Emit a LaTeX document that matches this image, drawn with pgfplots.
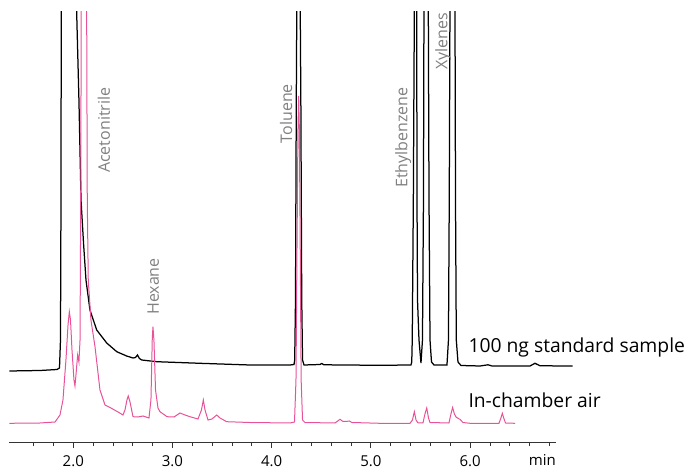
\documentclass[border=0pt]{standalone}
\usepackage{fontspec}
\setmainfont{Open Sans}
\usepackage{pgfplots}
\pgfplotsset{compat=1.18}
\definecolor{pinkline}{RGB}{232,82,152}
\definecolor{labelgray}{RGB}{128,128,128}
\begin{document}
\begin{tikzpicture}
\useasboundingbox (0,0) rectangle (689bp,469bp);
\begin{axis}[
  at={(9.3bp,26.3bp)}, anchor=south west,
  scale only axis, width=569.9bp, height=431bp,
  xmin=1.355, xmax=7.1, ymin=0, ymax=431,
  axis x line*=bottom, axis y line=none,
  x axis line style={shorten >=23.5bp, line width=0.8bp, draw=black!80},
  clip mode=individual,
  tick align=outside,
  major tick length=5.5bp, minor tick length=3.5bp,
  every tick/.style={line width=0.8bp, draw=black!80},
  xtick={2,3,4,5,6},
  xticklabels={2.0,3.0,4.0,5.0,6.0},
  minor xtick={1.6,1.8,2.2,2.4,2.6,2.8,3.2,3.4,3.6,3.8,4.2,4.4,4.6,4.8,5.2,5.4,5.6,5.8,6.2,6.4,6.6,6.8},
  xticklabel style={font=\fontsize{15bp}{18bp}\selectfont, anchor=base, inner sep=0pt, yshift=-17.8bp},
  ytick=\empty,
]
% 100 ng standard sample
\addplot[black, line width=1.25bp] coordinates {
(1.355,71.7) (1.664,72.2) (1.836,73.2) (1.861,74.7) (1.871,102.7) (1.876,242.7) (1.881,600)
(2.029,600) (2.034,430.7) (2.057,342.7) (2.078,242.7) (2.103,200) (2.128,162.7) (2.168,132.7)
(2.236,112.7) (2.337,99.7) (2.438,91) (2.538,86.7) (2.602,84.7) (2.627,85.2) (2.647,87.7)
(2.667,84.2) (2.690,82.7) (2.841,81) (3.277,79.4) (3.781,77.7) (4.185,77.7) (4.225,78.2)
(4.232,82.7) (4.240,142.7) (4.248,342.7) (4.253,430.7) (4.268,600) (4.288,430.7) (4.294,342.7)
(4.303,142.7) (4.311,82.7) (4.326,77.7) (4.487,78.2) (4.504,79.2) (4.527,77.9) (4.739,77.7)
(5.092,77.4) (5.394,77.7) (5.404,77.7) (5.412,80.7) (5.417,102.7) (5.428,242.7) (5.438,430.7)
(5.450,600) (5.462,430.7) (5.465,242.7) (5.470,142.7) (5.485,102.7) (5.505,79.7) (5.520,102.7)
(5.530,242.7) (5.535,430.7) (5.556,600) (5.579,430.7) (5.586,242.7) (5.596,102.7) (5.611,80.7)
(5.636,77.7) (5.767,77.7) (5.782,102.7) (5.790,242.7) (5.797,430.7) (5.823,600) (5.848,430.7)
(5.853,242.7) (5.861,102.7) (5.878,80.7) (5.908,77.2) (6.100,76.7) (6.181,77.9) (6.221,76.7)
(6.604,76.7) (6.654,79.4) (6.705,76.9) (7.034,76.7)
};
% In-chamber air
\addplot[pinkline, line width=1bp] coordinates {
(1.355,19.4) (1.664,19.7) (1.816,20.7) (1.866,27.7) (1.896,42.7) (1.926,82.7) (1.947,117.7)
(1.960,131) (1.972,122.7) (1.987,92.7) (2.007,62.7) (2.017,56.7) (2.027,67.7) (2.044,87.7)
(2.057,80.7) (2.068,102.7) (2.075,242.7) (2.080,430.7) (2.088,600) (2.133,600) (2.135,430.7)
(2.141,242.7) (2.151,162.7) (2.178,122.7) (2.219,96) (2.269,52.7) (2.320,37.7) (2.370,35.2)
(2.451,30.7) (2.501,27.7) (2.521,32.7) (2.541,42.7) (2.554,46.7) (2.572,40.7) (2.602,26)
(2.652,25.7) (2.703,26.7) (2.763,24.7) (2.783,42.7) (2.796,102.7) (2.803,116) (2.813,102.7)
(2.829,52.7) (2.854,34.7) (2.874,31) (2.945,26) (3.015,25.7) (3.076,29.7) (3.126,27.7)
(3.176,26) (3.257,23.7) (3.292,32.7) (3.311,42.7) (3.328,32.7) (3.358,22.7) (3.398,23.7)
(3.446,27.7) (3.479,24.7) (3.546,21) (3.781,20.2) (4.185,19.7) (4.230,20.7) (4.245,62.7)
(4.255,192.7) (4.265,312.7) (4.272,346.7) (4.279,312.7) (4.288,192.7) (4.297,62.7) (4.311,22.7)
(4.336,20.2) (4.638,19.7) (4.689,23.4) (4.719,21.2) (4.749,21.2) (4.782,21.7) (4.810,20.2)
(5.092,19.4) (5.394,19.4) (5.419,22.7) (5.438,31) (5.455,22.7) (5.475,19.7) (5.525,19.7)
(5.545,28.7) (5.563,34.7) (5.581,24.7) (5.596,20.2) (5.787,19.7) (5.807,28.7) (5.824,35.2)
(5.842,28.7) (5.858,25.7) (5.878,24.4) (5.898,23.4) (5.928,20.2) (5.999,19.4) (6.291,19.4)
(6.311,24.7) (6.325,29.4) (6.339,24.7) (6.357,19.7) (6.453,19.4)
};
\begin{scope}[every node/.style={font=\fontsize{16bp}{19bp}\selectfont, text=labelgray, inner sep=0pt, rotate=90, anchor=west}]
\node at (axis cs:2.309,269.7) {Acetonitrile};
\node at (axis cs:2.806,127.7) {Hexane};
\node at (axis cs:4.145,299.4) {Toluene};
\node at (axis cs:5.327,254.7) {Ethylbenzene};
\node at (axis cs:5.73,372.7) {Xylenes};
\end{scope}
\node[font=\fontsize{19.3bp}{22bp}\selectfont, inner sep=0pt, anchor=base west] at (axis cs:5.982,90) {100 ng standard sample};
\node[font=\fontsize{19.3bp}{22bp}\selectfont, inner sep=0pt, anchor=base west] at (axis cs:5.982,35) {In-chamber air};
\node[font=\fontsize{15bp}{18bp}\selectfont, inner sep=0pt, anchor=base] at (axis cs:6.729,-23.3) {min};
\end{axis}
\end{tikzpicture}
\end{document}
